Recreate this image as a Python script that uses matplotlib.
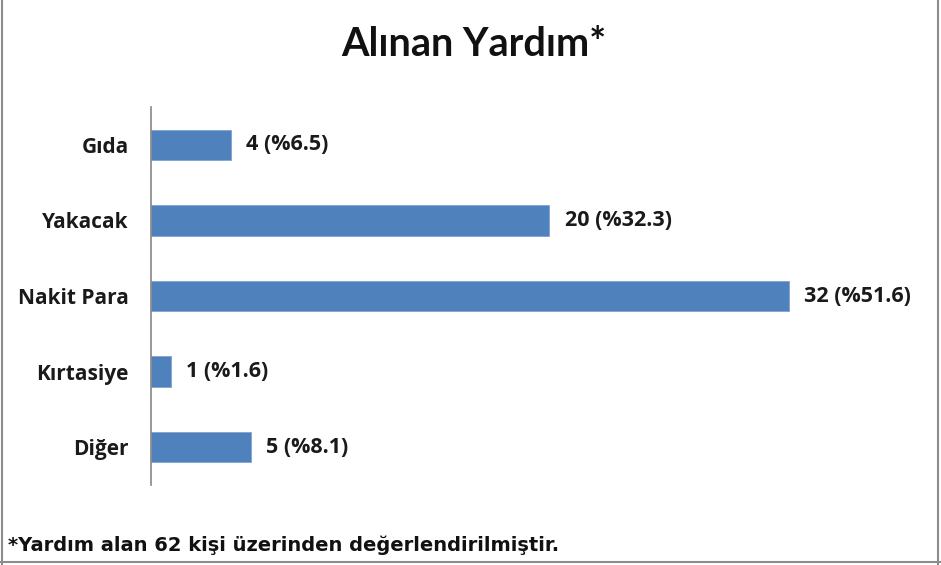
import matplotlib.pyplot as plt
from matplotlib.lines import Line2D

CATEGORIES = ["Gıda", "Yakacak", "Nakit Para", "Kırtasiye", "Diğer"]
COUNTS = [4, 20, 32, 1, 5]
PERCENTS = [6.5, 32.3, 51.6, 1.6, 8.1]
TITLE = "Alınan Yardım*"
NOTE = "*Yardım alan 62 kişi üzerinden değerlendirilmiştir."

BAR_COLOR = "#4F81BD"
LABEL_FONT = ["Open Sans", "DejaVu Sans"]
TITLE_FONT = ["Lato", "DejaVu Sans"]
NOTE_FONT = ["DejaVu Sans"]


def main():
    fig = plt.figure(figsize=(9.41, 5.65), dpi=100)
    ax = fig.add_axes([151 / 941, 1 - 485 / 565, (930 - 151) / 941, 378 / 565])

    pos = list(range(len(CATEGORIES)))
    ax.barh(pos, COUNTS, height=0.4, color=BAR_COLOR, edgecolor="#7FA3CF", linewidth=0.6)
    for y, n, p in zip(pos, COUNTS, PERCENTS):
        ax.annotate(f"{n} (%{p})", (n, y), xytext=(11, 0), textcoords="offset points",
                    va="center", ha="left", fontsize=15.5, fontweight="bold",
                    family=LABEL_FONT, color="#1a1a1a")

    ax.set_ylim(len(CATEGORIES) - 0.5, -0.5)
    ax.set_xlim(0, 39.1)
    ax.set_yticks(pos)
    ax.set_yticklabels(CATEGORIES, fontsize=15, fontweight="bold", family=LABEL_FONT, color="#1a1a1a")
    ax.tick_params(axis="y", length=0, pad=16)
    ax.set_xticks([])
    for s in ["top", "right", "bottom"]:
        ax.spines[s].set_visible(False)
    ax.spines["left"].set_color("#868686")
    ax.spines["left"].set_linewidth(1.2)

    fig.text(474 / 941, 1 - 44 / 565, TITLE, ha="center", va="center",
             fontsize=28.5, fontweight="bold", family=TITLE_FONT, color="#111111")
    fig.text(8 / 941, 1 - 545 / 565, NOTE, ha="left", va="center",
             fontsize=14, fontweight="bold", family=NOTE_FONT, color="#111111")

    # frame around the chart
    gray = "#8c8c8c"
    fig.add_artist(Line2D([2 / 941, 2 / 941], [0, 1], color=gray, lw=1.5))
    fig.add_artist(Line2D([938 / 941, 938 / 941], [0, 1], color=gray, lw=1.5))
    fig.add_artist(Line2D([0, 1], [3 / 565, 3 / 565], color=gray, lw=1.5))

    fig.savefig("out.png", dpi=100)


if __name__ == '__main__':
    main()
